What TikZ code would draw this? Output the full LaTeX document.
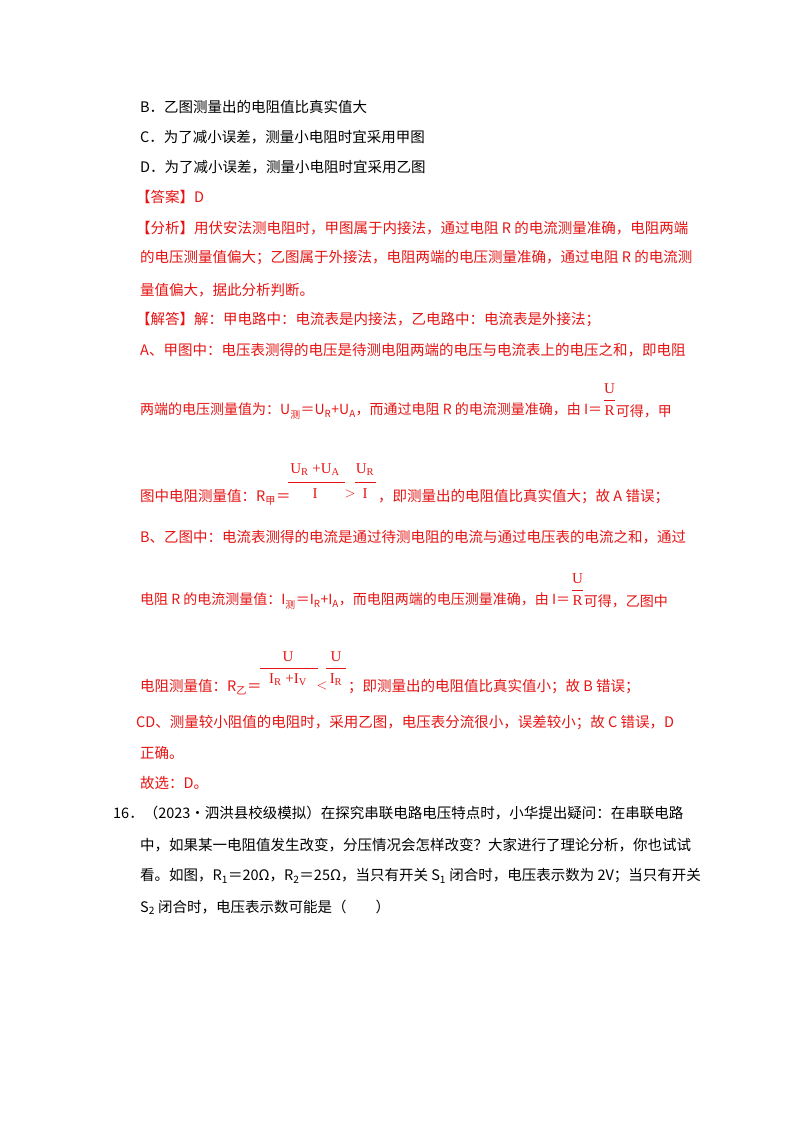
\documentclass[tikz,border=0pt]{standalone}
\usepackage{fontspec}
\setmainfont{Noto Sans CJK SC}
\newfontfamily\lat{Liberation Serif}
\definecolor{ansred}{RGB}{230,20,20}
\tikzset{
  line/.style={anchor=west,inner sep=0pt,font=\fontsize{14.5}{16}\selectfont},
  red/.style={text=ansred},
  frtext/.style={inner sep=0pt,font=\lat\fontsize{15}{16}\selectfont,text=ansred},
  frbar/.style={draw=ansred,line width=0.6pt}
}
\newcommand{\sub}[1]{\textsubscript{#1}}
\begin{document}
\begin{tikzpicture}[x=1pt,y=-1pt]
  \useasboundingbox[fill=white] (0,0) rectangle (800,1132);

  % options
  \node[line] (optB) at (140,107) {B．乙图测量出的电阻值比真实值大};
  \node[line] (optC) at (140,137) {C．为了减小误差，测量小电阻时宜采用甲图};
  \node[line] (optD) at (140,167) {D．为了减小误差，测量小电阻时宜采用乙图};

  % answer
  \node[line,red] (ans)  at (136,197) {【答案】D};
  \node[line,red] (ana1) at (136,228) {【分析】用伏安法测电阻时，甲图属于内接法，通过电阻 R 的电流测量准确，电阻两端};
  \node[line,red] (ana2) at (140,258) {的电压测量值偏大；乙图属于外接法，电阻两端的电压测量准确，通过电阻 R 的电流测};
  \node[line,red] (ana3) at (140,290) {量值偏大，据此分析判断。};
  \node[line,red] (sol1) at (136,320) {【解答】解：甲电路中：电流表是内接法，乙电路中：电流表是外接法；};
  \node[line,red] (sol2) at (140,350) {A、甲图中：电压表测得的电压是待测电阻两端的电压与电流表上的电压之和，即电阻};

  \node[line,red,font=\fontsize{14}{16}\selectfont] (sol3) at (140,411) {两端的电压测量值为：U\sub{测}＝U\sub{R}+U\sub{A}，而通过电阻 R 的电流测量准确，由 I＝};
  \node[frtext,anchor=west] (f1d) at ([xshift=2pt]sol3.east) {R};
  \node[frtext] (f1n) at ([yshift=22pt]f1d.center) {U};
  \draw[frbar] ([yshift=6pt]f1d.north west) -- ([yshift=6pt]f1d.north east);
  \node[line,red,font=\fontsize{14}{16}\selectfont] (sol3b) at ([xshift=1pt]f1d.east) {可得，甲};

  \node[line,red] (sol4) at (140,497) {图中电阻测量值：R\sub{甲}＝};
  \node[frtext] (f2n) at (315,470) {U\sub{R} +U\sub{A}};
  \node[frtext] (f2d) at (315,494) {I};
  \draw[frbar] (288,482) -- (345,482);
  \node[frtext] (gt) at (350,494) {$>$};
  \node[frtext] (f3n) at (365,470) {U\sub{R}};
  \node[frtext] (f3d) at (365,494) {I};
  \draw[frbar] (355,482) -- (376,482);
  \node[line,red] (sol4b) at (378,497) {，即测量出的电阻值比真实值大；故 A 错误；};

  \node[line,red] (sol5) at (140,537) {B、乙图中：电流表测得的电流是通过待测电阻的电流与通过电压表的电流之和，通过};

  \node[line,red,font=\fontsize{14}{16}\selectfont] (sol6) at (140,601) {电阻 R 的电流测量值：I\sub{测}＝I\sub{R}+I\sub{A}，而电阻两端的电压测量准确，由 I＝};
  \node[frtext,anchor=west] (f4d) at ([xshift=2pt]sol6.east) {R};
  \node[frtext] (f4n) at ([yshift=22pt]f4d.center) {U};
  \draw[frbar] ([yshift=6pt]f4d.north west) -- ([yshift=6pt]f4d.north east);
  \node[line,red,font=\fontsize{14}{16}\selectfont] (sol6b) at ([xshift=1pt]f4d.east) {可得，乙图中};

  \node[line,red] (sol7) at (140,687) {电阻测量值：R\sub{乙}＝};
  \node[frtext] (f5n) at (288,657) {U};
  \node[frtext] (f5d) at (288,680) {I\sub{R} +I\sub{V}};
  \draw[frbar] (260,668) -- (318,668);
  \node[frtext] (lt) at (322,686) {$<$};
  \node[frtext] (f6n) at (336,657) {U};
  \node[frtext] (f6d) at (336,680) {I\sub{R}};
  \draw[frbar] (326,668) -- (346,668);
  \node[line,red] (sol7b) at (348,687) {；即测量出的电阻值比真实值小；故 B 错误；};

  \node[line,red] (sol8) at (136,723) {CD、测量较小阻值的电阻时，采用乙图，电压表分流很小，误差较小；故 C 错误，D};
  \node[line,red] (sol9) at (140,753) {正确。};
  \node[line,red] (sel)  at (140,783) {故选：D。};

  % question 16
  \node[line] (q1) at (113,813) {16．（2023•泗洪县校级模拟）在探究串联电路电压特点时，小华提出疑问：在串联电路};
  \node[line] (q2) at (140,845) {中，如果某一电阻值发生改变，分压情况会怎样改变？大家进行了理论分析，你也试试};
  \node[line] (q3) at (140,876) {看。如图，R\sub{1}＝20Ω，R\sub{2}＝25Ω，当只有开关 S\sub{1} 闭合时，电压表示数为 2V；当只有开关};
  \node[line] (q4) at (140,907) {S\sub{2} 闭合时，电压表示数可能是（　　）};
\end{tikzpicture}
\end{document}
